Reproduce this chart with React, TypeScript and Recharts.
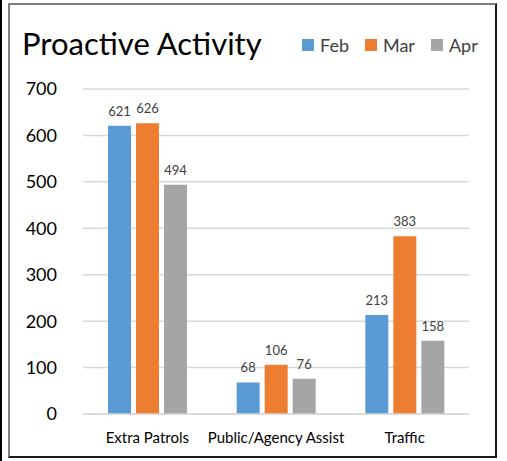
import React from "react";
import { BarChart, Bar, XAxis, YAxis, CartesianGrid, LabelList } from "recharts";

const categories = ["Extra Patrols", "Public/Agency Assist", "Traffic"];
const feb = [621, 68, 213];
const mar = [626, 106, 383];
const apr = [494, 76, 158];
const yTicks = [0, 100, 200, 300, 400, 500, 600, 700];
const seriesNames = ["Feb", "Mar", "Apr"];
const colors = ["#5B9BD5", "#ED7D31", "#A5A5A5"];

const data = categories.map((c, i) => ({ name: c, Feb: feb[i], Mar: mar[i], Apr: apr[i] }));

const FONT = "Lato, 'Open Sans', sans-serif";

export default function App() {
  return (
    <div style={{ position: "absolute", left: 0, top: 0, width: 507, height: 461, background: "#fff" }}>
      <div style={{ position: "absolute", left: 0, top: 0, width: 2, height: 461, background: "#000" }} />
      <div
        style={{
          position: "absolute",
          left: 8,
          top: 3,
          width: 489,
          height: 455,
          borderTop: "2px solid #7f7f7f",
          borderLeft: "2px solid #7f7f7f",
          borderRight: "2px solid #1a1a1a",
          borderBottom: "2px solid #1a1a1a",
          boxSizing: "border-box",
        }}
      />
      <div
        style={{
          position: "absolute",
          left: 22,
          top: 24,
          fontFamily: FONT,
          fontSize: 31,
          color: "#000",
          lineHeight: "38px",
          whiteSpace: "nowrap",
        }}
      >
        Proactive Activity
      </div>
      <div
        style={{
          position: "absolute",
          left: 302,
          top: 35,
          display: "flex",
          alignItems: "center",
          fontFamily: FONT,
          fontSize: 18,
          color: "#404040",
          lineHeight: "20px",
        }}
      >
        {seriesNames.map((s, i) => (
          <div key={s} style={{ display: "flex", alignItems: "center", marginRight: i < 2 ? 16 : 0 }}>
            <div style={{ width: 12, height: 12, background: colors[i], marginRight: 6 }} />
            <span>{s}</span>
          </div>
        ))}
      </div>
      <div style={{ position: "absolute", left: 0, top: 0 }}>
        <BarChart
          width={507}
          height={461}
          data={data}
          margin={{ top: 89, right: 38, bottom: 0, left: 0 }}
          barGap={5}
          barCategoryGap={25}
        >
          <CartesianGrid vertical={false} stroke="#d9d9d9" strokeWidth={1.5} />
          <XAxis
            dataKey="name"
            axisLine={{ stroke: "#d9d9d9", strokeWidth: 1.5 }}
            tickLine={false}
            tick={{ fontFamily: FONT, fontSize: 15, fill: "#000" }}
            height={47}
            tickMargin={12}
            interval={0}
          />
          <YAxis
            domain={[0, 700]}
            ticks={yTicks}
            axisLine={false}
            tickLine={false}
            tick={{ fontFamily: FONT, fontSize: 18, fill: "#000" }}
            width={83}
            tickMargin={20}
          />
          {seriesNames.map((s, i) => (
            <Bar key={s} dataKey={s} fill={colors[i]} isAnimationActive={false}>
              <LabelList
                dataKey={s}
                position="top"
                offset={10}
                style={{ fontFamily: FONT, fontSize: 13, fill: "#404040" }}
              />
            </Bar>
          ))}
        </BarChart>
      </div>
    </div>
  );
}
